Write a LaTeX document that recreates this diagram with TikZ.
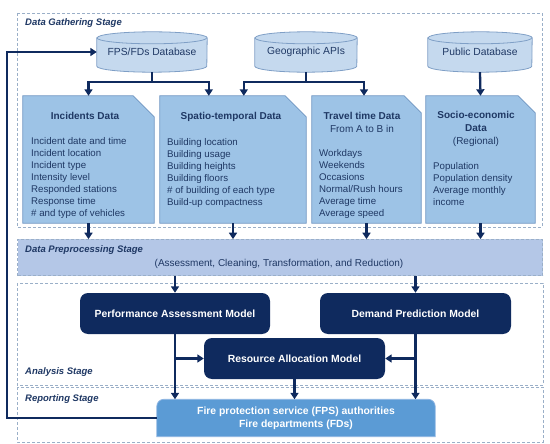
\documentclass[tikz,border=0pt]{standalone}
\usepackage{fontspec}
\setmainfont{Liberation Sans}
\usetikzlibrary{arrows.meta,calc,backgrounds}
\definecolor{navy}{HTML}{0F2A5E}
\definecolor{txt}{HTML}{1F3864}
\definecolor{cylfill}{HTML}{C5D9EE}
\definecolor{cylline}{HTML}{7F9FC6}
\definecolor{docfill}{HTML}{9DC3E6}
\definecolor{docline}{HTML}{6F95C2}
\definecolor{prefill}{HTML}{B4C7E7}
\definecolor{frameline}{HTML}{9AAFC8}
\definecolor{fpsfill}{HTML}{5B9BD5}
\definecolor{fpsline}{HTML}{8DB4E2}
\begin{document}
\begin{tikzpicture}[x=1pt,y=1pt,
  every node/.style={text=txt},
  conn/.style={draw=navy, line width=2.3pt},
  arr/.style={conn, -{Triangle[length=6.5pt,width=8pt]}},
  stagelbl/.style={anchor=west, inner sep=0pt, font=\fontsize{9.5}{11}\selectfont\bfseries\itshape},
  stageframe/.style={draw=frameline, dash pattern=on 3pt off 2pt, line width=0.6pt},
  dbnode/.style={minimum width=110pt, minimum height=40pt, inner sep=0pt, font=\fontsize{10.3}{12}\selectfont},
  cylsty/.style={fill=cylfill, draw=cylline, line width=0.8pt},
  docnode/.style={inner sep=0pt},
  docsty/.style={fill=docfill, draw=docline, line width=0.8pt},
  doctitle/.style={inner sep=0pt, font=\fontsize{10}{12}\selectfont\bfseries},
  docsub/.style={inner sep=0pt, font=\fontsize{10}{12}\selectfont},
  doclist/.style={anchor=north west, inner sep=0pt, align=left, font=\fontsize{9.7}{12}\selectfont},
  model/.style={fill=navy, rounded corners=8pt, inner sep=0pt, text=white, font=\fontsize{10.4}{12}\selectfont\bfseries},
]
\useasboundingbox (0,0) rectangle (550,-444);

% ---------- nodes ----------
\node[dbnode] (db1) at (152,-52) {FPS/FDs Database};
\node[dbnode, minimum width=102pt] (db2) at (306,-52) {Geographic APIs};
\node[dbnode, minimum width=104pt] (db3) at (480,-52) {Public Database};

\node[docnode, minimum width=131pt, minimum height=127pt] (inc) at (88.5,-159.5) {};
\node[docnode, minimum width=146pt, minimum height=127pt] (spa) at (233,-159.5) {};
\node[docnode, minimum width=109pt, minimum height=127pt] (trv) at (366.5,-159.5) {};
\node[docnode, minimum width=109pt, minimum height=127pt] (soc) at (480.5,-159.5) {};

\node[doctitle] (incT) at (85,-116) {Incidents Data};
\node[doclist] (incL) at (31,-137) {Incident date and time\\Incident location\\Incident type\\Intensity level\\Responded stations\\Response time\\\# and type of vehicles};

\node[doctitle] (spaT) at (231,-117) {Spatio-temporal Data};
\node[doclist] (spaL) at (167,-138) {Building location\\Building usage\\Building heights\\Building floors\\\# of building of each type\\Build-up compactness};

\node[doctitle] (trvT) at (362,-116) {Travel time Data};
\node[docsub] (trvS) at (362,-129) {From A to B in};
\node[doclist] (trvL) at (319,-149) {Workdays\\Weekends\\Occasions\\Normal/Rush hours\\Average time\\Average speed};

\node[doctitle] (socT1) at (476,-115) {Socio-economic};
\node[doctitle] (socT2) at (476,-128) {Data};
\node[docsub] (socT3) at (476,-142) {(Regional)};
\node[doclist] (socL) at (433,-162) {Population\\Population density\\Average monthly\\income};

\node[fill=prefill, draw=frameline, dash pattern=on 3pt off 2pt, line width=0.6pt, minimum width=525pt, minimum height=36pt, inner sep=0pt] (pre) at (280,-257.5) {};
\node[stagelbl] (preL) at (25,-250) {Data Preprocessing Stage};
\node[inner sep=0pt, font=\fontsize{10}{12}\selectfont] (preS) at (279,-264) {(Assessment, Cleaning, Transformation, and Reduction)};

\node[model, minimum width=190pt, minimum height=41pt] (perf) at (175,-313.5) {Performance Assessment Model};
\node[model, minimum width=191pt, minimum height=41pt] (dem) at (415.5,-313.5) {Demand Prediction Model};
\node[model, minimum width=181pt, minimum height=41pt] (res) at (294.5,-358.5) {Resource Allocation Model};

\node[inner sep=0pt, minimum width=278pt, minimum height=37pt, align=center, text=white, font=\fontsize{10.4}{13}\selectfont\bfseries] (fps) at (296,-418) {Fire protection service (FPS) authorities\\Fire departments (FDs)};

\node[stagelbl] (gatL) at (25,-23) {Data Gathering Stage};
\node[stagelbl] (anaL) at (25,-372) {Analysis Stage};
\node[stagelbl] (repL) at (25,-399) {Reporting Stage};

% ---------- background shapes ----------
\begin{scope}[on background layer]
  \draw[stageframe] (17,-13) rectangle (542,-227);
  \draw[stageframe] (17,-283) rectangle (543,-385);
  \draw[stageframe] (17,-387) rectangle (543,-442);
  \foreach \c/\r in {db1/55, db2/51, db3/52}{
    \path[cylsty] ($(\c.north west)+(0,-6)$) -- ($(\c.south west)+(0,6)$)
      arc[start angle=180, end angle=360, x radius=\r pt, y radius=6pt]
      -- ($(\c.north east)+(0,-6)$)
      arc[start angle=0, end angle=180, x radius=\r pt, y radius=6pt] -- cycle;
    \draw[cylline, line width=0.8pt] ($(\c.north west)+(0,-6)$)
      arc[start angle=180, end angle=360, x radius=\r pt, y radius=6pt];
  }
  \foreach \d/\k in {inc/21, spa/21, trv/17, soc/17}{
    \path[docsty] (\d.south west) -- (\d.north west) -- ($(\d.north east)+(-\k,0)$)
      -- ($(\d.north east)+(0,-\k)$) -- (\d.south east) -- cycle;
  }
  \path[fill=fpsfill, draw=fpsline, line width=0.8pt]
    (fps.south west) [rounded corners=7pt] -- (fps.north west) -- (fps.north east)
    [sharp corners] -- (fps.south east) -- cycle;
\end{scope}

% ---------- connectors ----------
\coordinate (j1) at ($(db1.south)+(0,-10)$);
\coordinate (j2) at ($(db2.south)+(0,-10)$);
\coordinate (spaA) at ($(spa.north west)+(49,0)$);
\coordinate (spaB) at ($(spa.north west)+(84,0)$);
\coordinate (trvA) at ($(trv.north)+(-2.5,0)$);
\draw[conn] (db1.south) -- (j1);
\draw[arr] (j1) -| (inc.north);
\draw[arr] (j1) -| (spaA);
\draw[conn] (db2.south) -- (j2);
\draw[arr] (j2) -| (spaB);
\draw[arr] (j2) -| (trvA);
\draw[arr] (db3.south) -- (soc.north);

\foreach \d in {inc, spa, trv, soc}{
  \draw[arr] (\d.south) -- (\d.south |- pre.north);
}
\draw[arr] (perf.north |- pre.south) -- (perf.north);
\draw[arr] (dem.north |- pre.south) -- (dem.north);

\draw[arr] (perf.south) -- (perf.south |- fps.north);
\draw[arr] (perf.south |- res.west) -- (res.west);
\draw[arr] (dem.south) -- (dem.south |- fps.north);
\draw[arr] (dem.south |- res.east) -- (res.east);
\draw[arr] (res.south) -- (res.south |- fps.north);

\coordinate (fb) at (7,-418);
\draw[arr] (fps.west) -- (fb) |- (db1.west);
\end{tikzpicture}
\end{document}
